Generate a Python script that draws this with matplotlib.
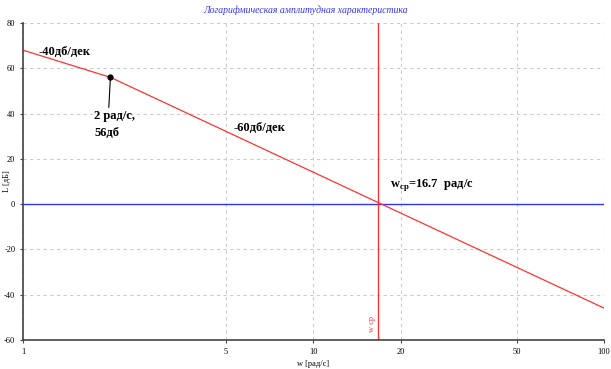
import numpy as np
import matplotlib.pyplot as plt

# breakpoints of the asymptotic LAFC
w_pts = [1, 2, 16.7, 100]
L_pts = [68, 56, 0.7, -45.9]
w_cut = 16.7
x_ticks = [1, 5, 10, 20, 50, 100]
y_ticks = [-60, -40, -20, 0, 20, 40, 60, 80]

plt.rcParams['font.family'] = ['Liberation Serif', 'DejaVu Serif']
plt.rcParams['axes.unicode_minus'] = False

fig = plt.figure(figsize=(6.11, 3.69), dpi=100)
ax = fig.add_axes([0.0376, 0.0786, 0.9509, 0.8591])

ax.set_xscale('log')
ax.set_xlim(1, 100)
ax.set_ylim(-60, 80)
ax.set_xticks(x_ticks)
ax.set_xticklabels([str(t) for t in x_ticks])
ax.minorticks_off()
ax.set_yticks(y_ticks)
ax.grid(True, color='#cccccc', linestyle=(0, (3, 3)), linewidth=0.8)
ax.tick_params(labelsize=6, length=2, width=0.8, color='#444444')
for s in ['top', 'right']:
    ax.spines[s].set_visible(False)
for s in ['left', 'bottom']:
    ax.spines[s].set_color('#444444')
    ax.spines[s].set_linewidth(1.2)

ax.axhline(0, color='#3333ff', linewidth=1)
ax.axvline(w_cut, color='#ff3333', linewidth=1)
ax.plot(w_pts, L_pts, color='#ff3333', linewidth=0.9)
ax.plot([w_pts[1]], [L_pts[1]], 'o', color='black', markersize=3.5)

ax.text(w_cut - 0.3, -53, 'w ср', rotation=90, color='#ff3333', fontsize=6,
        ha='right', va='center')

bold = dict(fontsize=9, fontweight='bold', color='black')
ax.text(1.13, 67, '-40дб/дек', va='center', **bold)
ax.annotate('2 рад/с,\n56дб', xy=(w_pts[1], L_pts[1]), xytext=(1.76, 41.5),
            va='top', ha='left', linespacing=1.5,
            arrowprops=dict(arrowstyle='-', color='black', lw=0.8,
                            shrinkA=0, shrinkB=0, relpos=(0.35, 1.0)), **bold)
ax.text(5.3, 33.5, '-60дб/дек', va='center', **bold)
ax.text(18.3, 8.5, 'w$_{\\mathregular{ср}}$=16.7  рад/с', va='center', **bold)

ax.set_xlabel('w [рад/с]', fontsize=6, labelpad=3)
ax.set_ylabel('L [дБ]', fontsize=6)
ax.yaxis.set_label_coords(-0.02, 0.5)
fig.text(0.5, 0.972, 'Логарифмическая амплитудная характеристика', color='#3333ff',
         fontsize=7, style='italic', ha='center', va='center')

fig.savefig('out.png', dpi=100)
